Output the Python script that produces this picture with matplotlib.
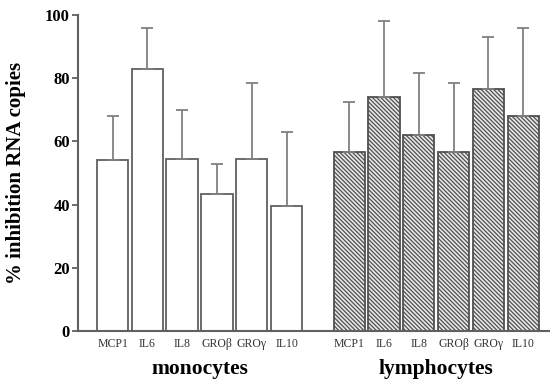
import numpy as np
import matplotlib
matplotlib.use("Agg")
import matplotlib.pyplot as plt

plt.rcParams['font.family'] = ['Liberation Serif', 'DejaVu Serif']
plt.rcParams['hatch.linewidth'] = 0.9
plt.rcParams['hatch.color'] = '#555555'

genes = ['MCP1', 'IL6', 'IL8', 'GROβ', 'GROγ', 'IL10']
groups = ['monocytes', 'lymphocytes']
mono_mean = [54, 83, 54.5, 43.5, 54.5, 39.5]
mono_top = [68, 96, 70, 53, 78.5, 63]
lymph_mean = [56.5, 74, 62, 56.5, 76.5, 68]
lymph_top = [72.5, 98, 81.5, 78.5, 93, 96]

edge = '#606060'
gap = 6.8

fig = plt.figure(figsize=(5.5, 3.84), dpi=100)
ax = fig.add_axes([0.142, 0.138, 0.858, 0.823])

x_mono = np.arange(len(genes))
x_lymph = x_mono + gap
mono_err = np.array(mono_top) - np.array(mono_mean)
lymph_err = np.array(lymph_top) - np.array(lymph_mean)

ax.bar(x_mono, mono_mean, width=0.9, color='white', edgecolor=edge, linewidth=1.3)
ax.bar(x_lymph, lymph_mean, width=0.9, color='#e8e8e8', edgecolor='#505050',
       linewidth=1.3, hatch='\\\\\\\\\\\\\\\\')
ax.errorbar(x_mono, mono_mean, yerr=[np.zeros(6), mono_err], fmt='none',
            ecolor='#808080', elinewidth=1.3, capsize=4, capthick=1.3)
ax.errorbar(x_lymph, lymph_mean, yerr=[np.zeros(6), lymph_err], fmt='none',
            ecolor='#808080', elinewidth=1.3, capsize=4, capthick=1.3)

ax.set_xlim(-0.99, 12.57)
ax.set_ylim(0, 100)
ax.set_yticks(np.arange(0, 101, 20))
ax.set_yticklabels([str(v) for v in range(0, 101, 20)], fontsize=12, fontweight='bold')
ax.set_xticks(np.concatenate([x_mono, x_lymph]))
ax.set_xticklabels(genes + genes, fontsize=8.5, color='#333333')
ax.tick_params(axis='x', length=0, pad=5)
ax.tick_params(axis='y', length=4, width=1.3, color=edge, direction='out', pad=2)
for s in ['top', 'right']:
    ax.spines[s].set_visible(False)
for s in ['left', 'bottom']:
    ax.spines[s].set_color(edge)
    ax.spines[s].set_linewidth(1.5)

ax.set_ylabel('% inhibition RNA copies', fontsize=15, fontweight='bold')
ax.yaxis.set_label_coords(-0.11, 0.5)
ax.text(x_mono.mean(), -0.12, groups[0], transform=ax.get_xaxis_transform(),
        ha='center', va='center', fontsize=15.5, fontweight='bold')
ax.text(x_lymph.mean(), -0.12, groups[1], transform=ax.get_xaxis_transform(),
        ha='center', va='center', fontsize=15.5, fontweight='bold')

fig.savefig('out.png', dpi=100)
